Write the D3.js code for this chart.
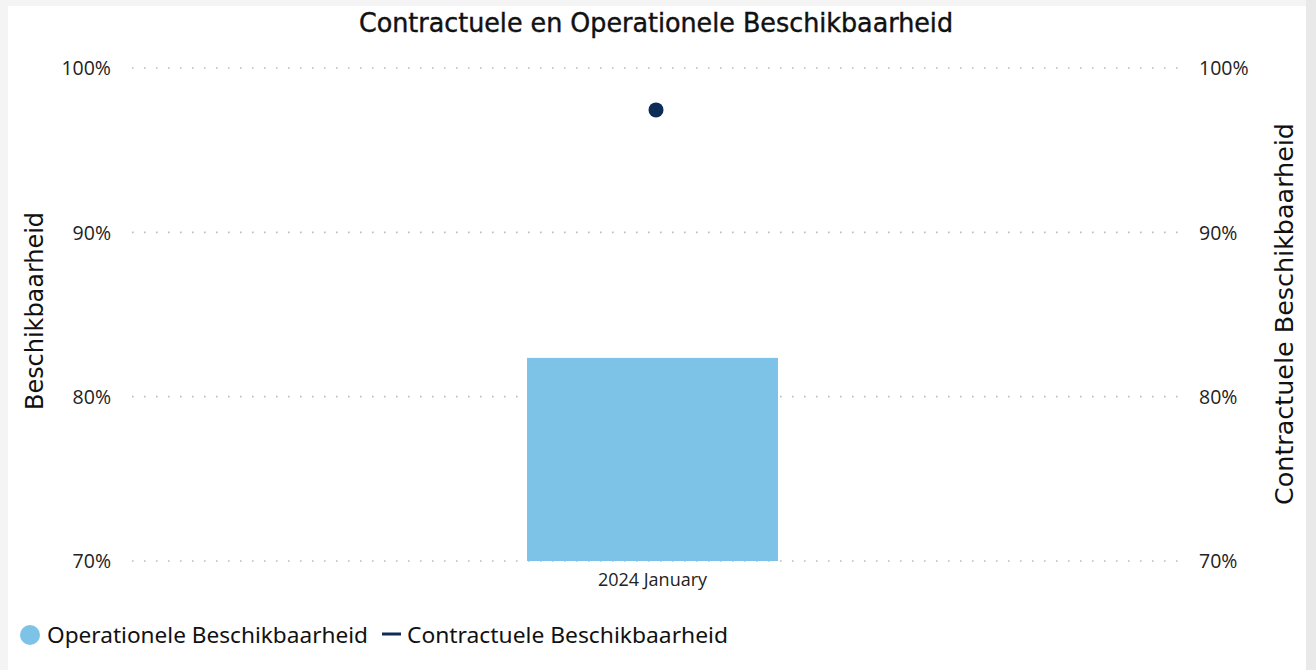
<!DOCTYPE html>
<html>
<head>
<meta charset="utf-8">
<script src="https://cdn.jsdelivr.net/npm/d3@7"></script>
<style>
  html, body { margin: 0; padding: 0; background: #f3f3f3; }
  svg { display: block; }
</style>
</head>
<body>
<svg id="chart" width="1316" height="670"></svg>
<script>
// ---- data ----
const categories = ["2024 January"];
const operationeel = [82.36];   // bar (left axis)
const contractueel = [97.45];   // point (right axis)
const yTicks = [70, 80, 90, 100];
const chartTitle = "Contractuele en Operationele Beschikbaarheid";
const leftAxisTitle = "Beschikbaarheid";
const rightAxisTitle = "Contractuele Beschikbaarheid";
const legendLabels = ["Operationele Beschikbaarheid", "Contractuele Beschikbaarheid"];

const W = 1316, H = 670;
const svg = d3.select("#chart");

// background card
svg.append("rect").attr("x", 0).attr("y", 0).attr("width", W).attr("height", H).attr("fill", "#f4f4f4");
svg.append("rect").attr("x", 1306).attr("y", 0).attr("width", 10).attr("height", H).attr("fill", "#e9e9e9");
svg.append("rect").attr("x", 8).attr("y", 6).attr("width", 1298).attr("height", H - 6).attr("fill", "#ffffff");

const plot = { left: 132, right: 1178, top: 68, bottom: 561 };

const x = d3.scaleBand().domain(categories).range([132, 1173])
  .paddingInner(0).paddingOuter(1.574);
const yL = d3.scaleLinear().domain([70, 100]).range([plot.bottom, plot.top]);
const yR = d3.scaleLinear().domain([70, 100]).range([plot.bottom, plot.top]);

const tickFont = "'Open Sans', 'Noto Sans', sans-serif";
const dinFont = "'DejaVu Sans Condensed', 'DejaVu Sans', sans-serif";

// grid lines
svg.append("g").selectAll("line").data(yTicks).join("line")
  .attr("x1", plot.left).attr("x2", plot.right)
  .attr("y1", d => yL(d)).attr("y2", d => yL(d))
  .attr("stroke", "#bdbdbd").attr("stroke-width", 1.6)
  .attr("stroke-dasharray", "1.6,10.4");

// bars
svg.append("g").selectAll("rect").data(categories).join("rect")
  .attr("x", d => x(d))
  .attr("width", x.bandwidth())
  .attr("y", (d, i) => yL(operationeel[i]))
  .attr("height", (d, i) => yL(70) - yL(operationeel[i]))
  .attr("fill", "#7DC3E8");

// points (contractueel)
svg.append("g").selectAll("circle").data(categories).join("circle")
  .attr("cx", d => x(d) + x.bandwidth() / 2 + 3.5)
  .attr("cy", (d, i) => yR(contractueel[i]))
  .attr("r", 7.5)
  .attr("fill", "#0E2D56");

// left axis
const leftAxis = d3.axisLeft(yL).tickValues(yTicks).tickFormat(d => d + "%").tickSize(0).tickPadding(0);
const gL = svg.append("g").attr("transform", `translate(${111},0)`).call(leftAxis);
gL.select(".domain").remove();
gL.selectAll("text").attr("font-family", tickFont).attr("font-size", 19.5).attr("fill", "#222").attr("dy", "0.35em");

// right axis
const rightAxis = d3.axisRight(yR).tickValues(yTicks).tickFormat(d => d + "%").tickSize(0).tickPadding(0);
const gR = svg.append("g").attr("transform", `translate(${1199},0)`).call(rightAxis);
gR.select(".domain").remove();
gR.selectAll("text").attr("font-family", tickFont).attr("font-size", 19.5).attr("fill", "#222").attr("dy", "0.35em");

// x axis
const xAxis = d3.axisBottom(x).tickSize(0).tickPadding(0);
const gX = svg.append("g").attr("transform", `translate(0,${plot.bottom + 11})`).call(xAxis);
gX.select(".domain").remove();
gX.selectAll("text").attr("font-family", tickFont).attr("font-size", 18).attr("fill", "#222").attr("dy", "0.75em");

// title
svg.append("text").attr("x", 656).attr("y", 32).attr("text-anchor", "middle")
  .attr("font-family", dinFont).attr("font-size", 27).attr("fill", "#111")
  .attr("stroke", "#111").attr("stroke-width", 0.4)
  .attr("textLength", 594).attr("lengthAdjust", "spacingAndGlyphs")
  .text(chartTitle);

// axis titles
svg.append("text").attr("transform", `translate(43,311) rotate(-90)`).attr("text-anchor", "middle")
  .attr("font-family", dinFont).attr("font-size", 25).attr("fill", "#111")
  .attr("textLength", 198).attr("lengthAdjust", "spacingAndGlyphs").text(leftAxisTitle);
svg.append("text").attr("transform", `translate(1293,314) rotate(-90)`).attr("text-anchor", "middle")
  .attr("font-family", dinFont).attr("font-size", 25).attr("fill", "#111")
  .attr("textLength", 382).attr("lengthAdjust", "spacingAndGlyphs").text(rightAxisTitle);

// legend
const legendFont = "'Noto Sans', 'Open Sans', sans-serif";
const lg = svg.append("g");
lg.append("circle").attr("cx", 30).attr("cy", 635).attr("r", 10).attr("fill", "#7DC3E8");
lg.append("text").attr("x", 47).attr("y", 643).attr("font-family", legendFont)
  .attr("font-size", 21).attr("fill", "#111")
  .attr("textLength", 321).attr("lengthAdjust", "spacingAndGlyphs").text(legendLabels[0]);
lg.append("line").attr("x1", 382).attr("x2", 401).attr("y1", 634).attr("y2", 634)
  .attr("stroke", "#0E2D56").attr("stroke-width", 3);
lg.append("text").attr("x", 407).attr("y", 643).attr("font-family", legendFont)
  .attr("font-size", 21).attr("fill", "#111")
  .attr("textLength", 321).attr("lengthAdjust", "spacingAndGlyphs").text(legendLabels[1]);
</script>
</body>
</html>
